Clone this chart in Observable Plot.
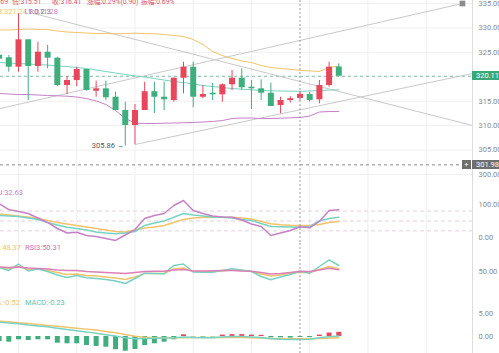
<!DOCTYPE html>
<html><head><meta charset="utf-8">
<script src="https://cdn.jsdelivr.net/npm/d3@7"></script>
<script src="https://cdn.jsdelivr.net/npm/@observablehq/plot@0.6"></script>
<style>
body{margin:0;background:#fff;}
#wrap{position:relative;width:499px;height:353px;overflow:hidden;font-family:Roboto,"Noto Sans CJK SC",sans-serif;}
.panel{position:absolute;left:0;}
.lbl{position:absolute;font-size:7.5px;white-space:nowrap;line-height:8px;}
.hdr{font-size:6.8px;}
.tag{position:absolute;font-size:7.5px;color:#fff;line-height:9px;height:9px;white-space:nowrap;}
</style></head><body><div id="wrap"></div>
<script>
// ---- candle data (index 0 is partly off-screen on the left) ----
const openP  = [324.4,323.89,321.96,327.57,322.11,325.03,323.81,318.22,319.24,321.49,317.05,317.54,315.82,313.10,310.03,313.10,316.95,315.82,315.15,319.71,321.96,315.82,316.64,316.31,318.36,319.71,317.87,317.54,316.64,314.12,315.15,315.55,316.38,315.29,318.22,322.0];
const highP  = [325.0,324.36,332.89,327.57,327.08,326.40,324.01,320.06,321.96,321.49,319.10,319.10,316.85,314.80,314.33,318.89,318.89,318.89,319.71,322.99,322.99,318.22,318.63,318.56,321.29,321.64,319.24,319.38,318.69,315.82,315.93,317.0,316.85,319.24,322.99,322.66];
const lowP   = [323.0,320.94,320.94,315.15,320.94,321.64,318.01,316.38,318.01,317.05,315.82,315.15,313.10,305.86,306.14,313.10,312.49,313.10,314.80,316.52,313.65,315.50,315.15,314.80,317.19,317.19,313.31,315.15,313.92,312.42,314.62,315.1,314.80,314.47,317.87,320.11];
const closeP = [323.6,321.96,327.57,322.11,325.03,323.81,318.22,319.24,321.49,317.19,317.54,315.70,313.10,310.03,313.10,316.95,315.82,315.29,319.71,321.96,315.82,316.38,316.31,318.36,319.71,317.75,317.54,316.64,313.92,315.15,315.51,316.41,315.15,318.22,321.96,320.11];
// ---- BOLL ----
const bollUp  = [329.58,329.58,329.68,329.78,329.68,329.68,329.37,329.17,329.06,328.96,328.86,328.86,328.80,328.86,328.92,328.86,328.80,328.66,328.45,328.25,327.63,326.61,325.17,324.36,323.74,323.23,322.92,322.31,321.90,321.70,321.55,321.3,321.22,321.08,321.96,322.17];
const bollMid = [322.92,322.82,322.72,322.61,322.51,322.41,322.21,322.11,321.90,321.70,321.39,321.08,320.77,320.47,320.16,319.96,319.65,319.34,319.04,318.83,318.52,318.22,318.01,317.81,317.60,317.46,317.34,317.19,317.13,317.09,317.05,317.03,317.09,317.19,317.29,317.34];
const bollLow = [316.58,316.48,316.37,316.37,316.27,316.17,316.11,316.03,315.86,315.56,315.05,314.33,313.10,311.46,310.54,310.44,310.44,310.50,310.54,310.58,310.65,310.75,310.85,311.05,311.46,311.56,311.56,311.46,311.46,311.52,311.60,311.66,311.97,312.79,312.89,312.89];
// ---- KDJ ----
const kdjK = [66.7,65.2,63.6,59.1,54.5,45.5,37.9,31.2,27.3,22.7,16.7,13.6,11.2,13.6,18.2,36.4,43.9,50,61.5,72.7,68.2,65.2,62.1,61.5,59.1,54.5,51.5,42.4,33.3,32.4,31.8,31.2,33.3,50,57.6,61.5];
const kdjD = [71.8,68.2,65.2,62.1,57.6,51.5,45.5,40.9,36.4,31.8,27.3,22.7,18.2,16.7,22.7,28.8,31.8,36.4,45.5,54.5,59.1,60.6,61.5,61.5,61.5,59.1,56.1,48.5,41.4,38.5,36.9,36.4,36.4,39.4,45.5,48.5];
const kdjJ = [103,84.8,78.8,72.7,59,45.5,27.3,13.6,16,6,3,-3,-9,7.6,24,57.6,66.7,72.7,97,112,81.8,72.7,65,62,61.5,53,41,33.3,6,13.6,21.2,32.63,29.4,48.5,81.8,84];
// ---- RSI ----
const rsi1 = [58.3,52.1,65.6,51,55.2,50,42.7,37.5,41.7,37,35.4,33.3,30.2,25,35.4,46.5,45.8,45.2,62.5,65.6,49,48.5,48.5,52.1,55.6,53.1,50,39.6,32.7,38.5,43.8,50.6,46.5,60.4,74.4,62.5];
const rsi2 = [58.3,55.2,60.4,54.2,55.2,52.1,47.9,43.8,44.8,41.7,40.6,38.5,36.5,33.3,38.5,45.8,45.8,45.8,55.2,57.3,50,50,50,51,53.1,52.1,50,44.8,40.6,42.7,45.8,48.37,47.4,54.2,60.4,55.6];
const rsi3 = [59.4,58.3,59.4,57.3,56.2,55.2,53.1,52.1,52.1,50,49,47.9,46.9,45.8,47.9,50,50.4,50.6,53.1,54.2,51,51,51.4,52.1,52.1,51,50.6,47.9,44.8,45.8,47.9,50.31,50,53.1,56.9,53.5];
// ---- MACD ----
const macdDif  = [3.1,2.95,2.75,2.5,2.3,2.1,1.8,1.5,1.25,1.0,0.7,0.4,0.1,-0.3,-0.5,-0.45,-0.4,-0.35,-0.3,-0.1,-0.2,-0.25,-0.25,-0.1,0.0,0.0,-0.1,-0.2,-0.5,-0.6,-0.63,-0.63,-0.6,-0.3,-0.05,0.1];
const macdDea  = [3.35,3.2,3.0,2.8,2.6,2.4,2.2,2.0,1.8,1.6,1.4,1.1,0.8,0.45,0.05,-0.15,-0.25,-0.3,-0.3,-0.25,-0.2,-0.2,-0.2,-0.2,-0.2,-0.22,-0.28,-0.35,-0.42,-0.47,-0.5,-0.52,-0.5,-0.45,-0.38,-0.3];
const macdHist = [-1.1,-1.24,-0.72,-0.87,-0.72,-0.72,-1.46,-1.59,-1.59,-1.96,-2.17,-2.33,-2.89,-3.2,-2.83,-1.96,-1.59,-1.24,-0.72,0.37,-0.1,-0.15,-0.1,0.3,0.4,0.4,0.3,0.25,-0.3,-0.3,-0.35,-0.23,-0.25,0.3,0.75,0.9];
// ---- drawn trend lines (index, price) ----
const trendA = [{i:3.55,p:332.95},{i:48.77,p:310.03}];
const trendB = [{i:0,p:313.45},{i:47.74,p:335.0}];
const trendC = [{i:14,p:306.14},{i:48.77,p:320.67}];
const lowMark = [{i:13,p:305.86,t:"305.86 →"}];
// ---- ticks / markers ----
const priceGrid = [300,305,310,315,320,325,330,335];
const priceTicks = [300,305,310,315,325,330,335]; // 320.00 is hidden under the last-price tag
const kdjTicks = [0,100];
const kdjLevels = [20,50,80];
const rsiTicks = [50];
const macdTicks = [0,5];
const vGrid = [2,8,14,20,26,32,38,44];
const crossIdx = 31;
const lastPrice = 320.11;
const crossPrice = 301.98;

const RED="#e8475b", GREEN="#3fae7d", YEL="#f1c36b", TEAL="#78d2c3", PURP="#c680c8", GRAYL="#c9c9c9";
const idx = d3.range(openP.length);
const candles = idx.map(i=>({i,o:openP[i],h:highP[i],l:lowP[i],c:closeP[i]}));
const col = d=>d.c>=d.o?RED:GREEN;
const ser = arr => idx.map(i=>({i,v:arr[i]}));

const W=499, MR=27;
const step=9.706, first=8.3;
const xDom=[1-first/step, 1+(W-MR-first)/step];
const style={background:"transparent",fontFamily:"Roboto, sans-serif",fontSize:"7.5px",color:"#888",overflow:"hidden"};
const axisOpts = ()=>({anchor:"right",tickSize:0,tickPadding:6,tickFormat:d=>d.toFixed(2),label:null,fill:"#8a8a8a"});

function panel(top,h,ydom,marks){
  const p = Plot.plot({width:W,height:h,marginLeft:0,marginRight:MR,marginTop:0,marginBottom:0,
    x:{domain:xDom,axis:null}, y:{domain:ydom,axis:null}, style, marks});
  p.classList.add("panel"); p.style.top=top+"px";
  document.getElementById("wrap").appendChild(p);
  return p;
}
const common = [
  Plot.gridX(vGrid,{stroke:"#efefef",strokeOpacity:1}),
];
const cross = Plot.ruleX([crossIdx],{stroke:"#9a9a9a",strokeDasharray:"2,2"});

// main
const main = panel(0,188,[297.14,335.614],[
  ...common,
  Plot.gridY(priceGrid,{stroke:"#f0f0f0",strokeOpacity:1}),
  Plot.axisY(priceTicks,axisOpts()),
  Plot.ruleY([lastPrice],{stroke:"#7dbfa6",strokeDasharray:"3,3"}),
  Plot.ruleY([crossPrice],{stroke:"#8a8a8a",strokeDasharray:"3,3"}),
  Plot.line(trendA,{x:"i",y:"p",stroke:GRAYL,strokeWidth:1}),
  Plot.line(trendB,{x:"i",y:"p",stroke:GRAYL,strokeWidth:1}),
  Plot.line(trendC,{x:"i",y:"p",stroke:GRAYL,strokeWidth:1}),
  Plot.dot(trendB.slice(1),{x:"i",y:"p",symbol:"square",r:3.2,fill:"#8c8c8c"}),
  Plot.line(ser(bollUp),{x:"i",y:"v",stroke:YEL,strokeWidth:1}),
  Plot.line(ser(bollMid),{x:"i",y:"v",stroke:TEAL,strokeWidth:1}),
  Plot.line(ser(bollLow),{x:"i",y:"v",stroke:PURP,strokeWidth:1}),
  Plot.ruleX(candles,{x:"i",y1:"l",y2:"h",stroke:col,strokeWidth:1}),
  Plot.ruleX(candles,{x:"i",y1:"o",y2:"c",stroke:col,strokeWidth:6}),
  Plot.text(lowMark,{x:"i",y:"p",text:"t",textAnchor:"end",dx:-1,fill:"#555",fontSize:7.5}),
  cross,
  Plot.frame({anchor:"right",stroke:"#dcdcdc"}),
  Plot.frame({anchor:"bottom",stroke:"#ececec"})
]);
// KDJ
panel(188,55,[-18.2,148.5],[
  ...common,
  Plot.ruleY(kdjLevels,{stroke:"#e2d2dc",strokeDasharray:"4,3"}),
  Plot.axisY(kdjTicks,axisOpts()),
  Plot.line(ser(kdjD),{x:"i",y:"v",stroke:YEL}),
  Plot.line(ser(kdjK),{x:"i",y:"v",stroke:TEAL}),
  Plot.line(ser(kdjJ),{x:"i",y:"v",stroke:PURP}),
  cross,
  Plot.frame({anchor:"right",stroke:"#dcdcdc"}),
  Plot.frame({anchor:"bottom",stroke:"#ececec"})
]);
// RSI
panel(243,52,[0,108.3],[
  ...common,
  Plot.axisY(rsiTicks,axisOpts()),
  Plot.line(ser(rsi2),{x:"i",y:"v",stroke:YEL}),
  Plot.line(ser(rsi1),{x:"i",y:"v",stroke:TEAL}),
  Plot.line(ser(rsi3),{x:"i",y:"v",stroke:"#dc7fb6"}),
  cross,
  Plot.frame({anchor:"right",stroke:"#dcdcdc"}),
  Plot.frame({anchor:"bottom",stroke:"#e2d2dc",strokeDasharray:"4,3"})
]);
// MACD
const mh = idx.map(i=>({i,v:macdHist[i]}));
panel(295,58,[-3.70,8.91],[
  ...common,
  Plot.axisY(macdTicks,axisOpts()),
  Plot.ruleX(mh,{x:"i",y1:0,y2:"v",stroke:d=>d.v>=0?RED:GREEN,strokeWidth:5}),
  Plot.line(ser(macdDea),{x:"i",y:"v",stroke:YEL}),
  Plot.line(ser(macdDif),{x:"i",y:"v",stroke:TEAL}),
  cross,
  Plot.frame({anchor:"right",stroke:"#dcdcdc"})
]);

// ---- labels (legends) ----
const wrap=document.getElementById("wrap");
function lbl(txt,color,top,left,right,cls){
  const d=document.createElement("div"); d.className="lbl"+(cls?" "+cls:""); d.textContent=txt; d.style.color=color; d.style.top=top+"px";
  if(right!=null) d.style.right=right+"px"; else d.style.left=left+"px";
  wrap.appendChild(d); return d;
}
const VAL="#d9536b";
lbl("高:317.69",VAL,-2,null,W-8,"hdr");
lbl("低:315.51",VAL,-2,12,null,"hdr");
lbl("收:316.41",VAL,-2,52,null,"hdr");
lbl("涨幅:0.29%(0.90)",VAL,-2,87,null,"hdr");
lbl("振幅:0.69%",VAL,-2,141,null,"hdr");
lbl("UB:321.24",YEL,8,null,W-27);
lbl("1.0.2.3","#777",8,28);
lbl("LB:311.28",PURP,8,null,W-58);
lbl("K:31.20 D:36.39 J:32.63",PURP,189,null,W-23);
lbl("RSI2:48.37",YEL,244,null,W-21);
lbl("RSI3:50.31","#d46fb0",244,25);
lbl("DEA:-0.52",YEL,299,null,W-20);
lbl("MACD:-0.23","#5cc4b0",299,25);

// price tags from the main y scale
const ys = main.scale("y");
function tag(txt,bg,price,left,width,center){
  const d=document.createElement("div"); d.className="tag"; d.textContent=txt;
  d.style.background=bg; d.style.left=left+"px"; d.style.width=width+"px";
  d.style.top=(ys.apply(price)-4.5)+"px";
  d.style.textAlign=center?"center":"left"; if(!center) d.style.paddingLeft="4px";
  wrap.appendChild(d);
}
tag(lastPrice.toFixed(2),"#3aa876",lastPrice,W-MR,MR,false);
tag(crossPrice.toFixed(2),"#6e6e6e",crossPrice,W-MR,MR,false);
tag("+","#6e6e6e",crossPrice,W-MR-10,9,true);
</script></body></html>
